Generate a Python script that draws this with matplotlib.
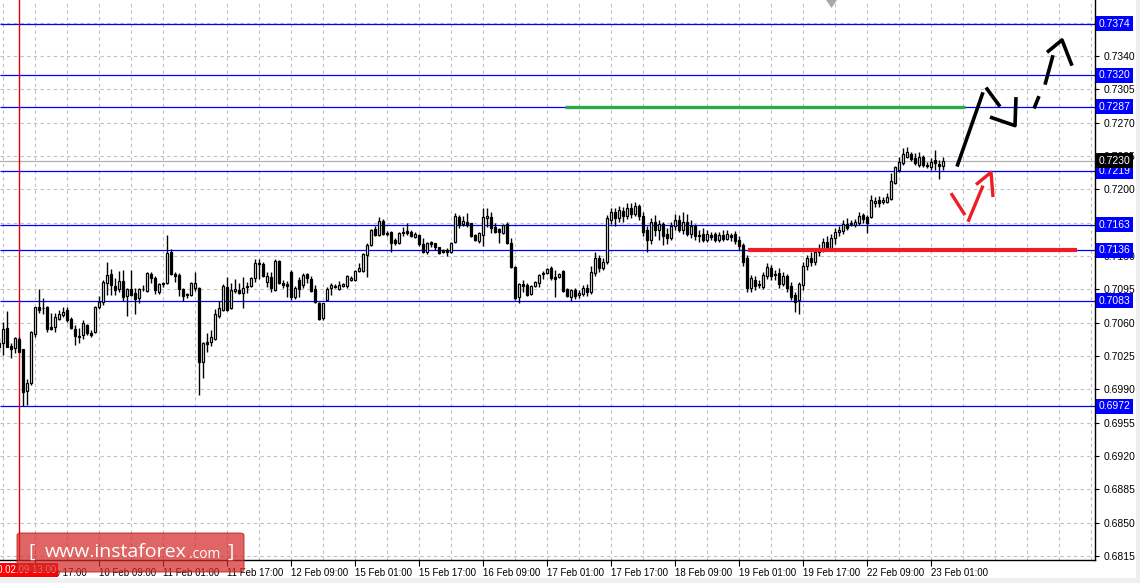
import numpy as np
import matplotlib
matplotlib.use("Agg")
import matplotlib.pyplot as plt
from matplotlib.patches import FancyBboxPatch, Polygon, Rectangle
from matplotlib.transforms import blended_transform_factory

plt.rcParams['font.family'] = ['Liberation Sans', 'DejaVu Sans']

# H1 candles, prices in pips (x 0.0001)
open_pips = [
    7034, 7039, 7054, 7035, 7033, 7043, 7032, 6988, 6997, 7048,
    7076, 7075, 7076, 7055, 7055, 7064, 7068, 7073, 7064, 7053,
    7046, 7047, 7057, 7049, 7050, 7076, 7082, 7102, 7111, 7098,
    7095, 7104, 7088, 7095, 7091, 7086, 7095, 7093, 7111, 7107,
    7092, 7101, 7102, 7134, 7111, 7110, 7095, 7090, 7089, 7096,
    7096, 7019, 7040, 7040, 7043, 7067, 7073, 7097, 7075, 7093,
    7094, 7091, 7097, 7098, 7107, 7123, 7122, 7103, 7108, 7094,
    7125, 7102, 7101, 7113, 7087, 7105, 7100, 7111, 7106, 7095,
    7081, 7065, 7084, 7096, 7097, 7095, 7098, 7098, 7105, 7105,
    7114, 7114, 7131, 7142, 7158, 7152, 7167, 7153, 7155, 7147,
    7144, 7154, 7156, 7155, 7150, 7152, 7143, 7134, 7145, 7144,
    7139, 7136, 7136, 7134, 7145, 7171, 7164, 7166, 7165, 7152,
    7146, 7152, 7170, 7171, 7160, 7158, 7154, 7164, 7144, 7118,
    7087, 7101, 7100, 7090, 7098, 7102, 7111, 7112, 7117, 7108,
    7108, 7114, 7095, 7087, 7094, 7089, 7090, 7096, 7092, 7112,
    7128, 7117, 7124, 7168, 7176, 7170, 7177, 7172, 7180, 7174,
    7183, 7172, 7157, 7147, 7166, 7157, 7164, 7153, 7149, 7162,
    7168, 7157, 7166, 7153, 7162, 7152, 7153, 7147, 7152, 7153,
    7147, 7152, 7148, 7152, 7153, 7147, 7142, 7128, 7096, 7105,
    7101, 7097, 7109, 7117, 7110, 7112, 7101, 7109, 7098, 7089,
    7084, 7100, 7119, 7128, 7124, 7134, 7136, 7145, 7138, 7149,
    7155, 7156, 7164, 7164, 7163, 7165, 7173, 7171, 7171, 7186,
    7189, 7187, 7187, 7190, 7207, 7220, 7228, 7234, 7237, 7233,
    7226, 7234, 7226, 7224, 7231, 7227, 7225,
]
high_pips = [
    7044, 7061, 7072, 7039, 7045, 7045, 7032, 7001, 7051, 7076,
    7095, 7086, 7077, 7070, 7070, 7073, 7076, 7076, 7066, 7057,
    7054, 7063, 7059, 7052, 7077, 7088, 7105, 7124, 7116, 7107,
    7114, 7115, 7096, 7115, 7096, 7096, 7100, 7113, 7113, 7109,
    7102, 7103, 7152, 7137, 7113, 7112, 7096, 7091, 7103, 7113,
    7097, 7040, 7049, 7052, 7074, 7083, 7101, 7108, 7102, 7106,
    7102, 7108, 7103, 7108, 7127, 7127, 7124, 7113, 7113, 7127,
    7126, 7105, 7104, 7115, 7098, 7108, 7112, 7112, 7109, 7100,
    7082, 7081, 7097, 7102, 7101, 7104, 7102, 7110, 7109, 7115,
    7123, 7133, 7144, 7158, 7162, 7171, 7169, 7156, 7156, 7149,
    7155, 7160, 7165, 7157, 7155, 7153, 7149, 7145, 7146, 7144,
    7139, 7137, 7138, 7145, 7175, 7173, 7172, 7175, 7165, 7153,
    7155, 7180, 7180, 7176, 7165, 7159, 7164, 7166, 7149, 7119,
    7102, 7105, 7102, 7100, 7104, 7111, 7114, 7117, 7119, 7115,
    7112, 7115, 7096, 7095, 7096, 7094, 7100, 7101, 7120, 7134,
    7131, 7128, 7173, 7180, 7180, 7183, 7181, 7186, 7186, 7187,
    7185, 7176, 7162, 7170, 7173, 7168, 7166, 7159, 7166, 7174,
    7173, 7176, 7174, 7168, 7164, 7157, 7159, 7157, 7155, 7155,
    7155, 7157, 7157, 7154, 7156, 7151, 7144, 7131, 7110, 7109,
    7105, 7113, 7123, 7121, 7115, 7117, 7113, 7111, 7103, 7092,
    7103, 7124, 7131, 7134, 7138, 7143, 7149, 7151, 7153, 7159,
    7162, 7168, 7170, 7168, 7169, 7176, 7175, 7173, 7194, 7192,
    7193, 7192, 7196, 7217, 7225, 7234, 7243, 7245, 7239, 7238,
    7239, 7236, 7229, 7233, 7241, 7231, 7234,
]
low_pips = [
    7029, 7026, 7034, 7023, 7028, 7029, 6972, 6973, 6995, 7045,
    7070, 7069, 7050, 7052, 7050, 7063, 7066, 7061, 7053, 7036,
    7039, 7043, 7047, 7045, 7049, 7074, 7079, 7089, 7089, 7089,
    7092, 7083, 7067, 7088, 7069, 7081, 7093, 7092, 7102, 7090,
    7090, 7097, 7101, 7110, 7103, 7088, 7083, 7086, 7088, 7093,
    6984, 7002, 7029, 7035, 7042, 7065, 7072, 7072, 7074, 7091,
    7090, 7075, 7091, 7097, 7103, 7106, 7108, 7097, 7092, 7093,
    7101, 7096, 7087, 7084, 7085, 7087, 7096, 7102, 7092, 7081,
    7063, 7063, 7084, 7089, 7096, 7094, 7097, 7096, 7104, 7104,
    7113, 7113, 7108, 7141, 7151, 7151, 7152, 7151, 7134, 7142,
    7143, 7151, 7152, 7150, 7149, 7140, 7133, 7132, 7139, 7136,
    7132, 7133, 7130, 7133, 7144, 7159, 7162, 7160, 7150, 7146,
    7144, 7140, 7160, 7154, 7154, 7144, 7153, 7143, 7117, 7084,
    7081, 7092, 7088, 7089, 7097, 7097, 7106, 7111, 7105, 7087,
    7107, 7092, 7087, 7083, 7085, 7086, 7088, 7088, 7090, 7109,
    7113, 7115, 7122, 7164, 7162, 7166, 7166, 7169, 7170, 7172,
    7168, 7151, 7134, 7143, 7151, 7147, 7142, 7143, 7147, 7157,
    7155, 7153, 7151, 7149, 7147, 7145, 7145, 7145, 7147, 7145,
    7145, 7146, 7147, 7146, 7143, 7136, 7119, 7092, 7092, 7094,
    7096, 7095, 7106, 7105, 7105, 7096, 7098, 7092, 7084, 7071,
    7069, 7094, 7115, 7119, 7121, 7130, 7134, 7136, 7136, 7143,
    7151, 7153, 7157, 7162, 7160, 7163, 7165, 7154, 7170, 7181,
    7181, 7185, 7186, 7189, 7206, 7218, 7226, 7233, 7230, 7226,
    7224, 7224, 7222, 7220, 7220, 7211, 7220,
]
close_pips = [
    7039, 7053, 7034, 7032, 7044, 7029, 6987, 6997, 7050, 7076,
    7073, 7075, 7053, 7053, 7066, 7069, 7071, 7063, 7054, 7046,
    7045, 7060, 7049, 7047, 7076, 7082, 7103, 7110, 7100, 7094,
    7104, 7087, 7095, 7089, 7085, 7095, 7095, 7112, 7107, 7094,
    7101, 7102, 7133, 7111, 7109, 7095, 7088, 7089, 7102, 7102,
    7019, 7039, 7038, 7045, 7069, 7075, 7098, 7073, 7094, 7095,
    7091, 7096, 7098, 7107, 7123, 7122, 7109, 7109, 7096, 7125,
    7102, 7100, 7098, 7087, 7096, 7095, 7110, 7107, 7093, 7082,
    7064, 7081, 7095, 7100, 7098, 7100, 7101, 7109, 7107, 7114,
    7117, 7132, 7142, 7157, 7152, 7167, 7153, 7154, 7144, 7144,
    7154, 7155, 7154, 7151, 7153, 7143, 7134, 7144, 7143, 7139,
    7133, 7134, 7134, 7144, 7172, 7163, 7167, 7163, 7151, 7147,
    7154, 7171, 7172, 7159, 7155, 7155, 7163, 7144, 7118, 7086,
    7101, 7098, 7089, 7098, 7103, 7110, 7112, 7116, 7107, 7106,
    7111, 7093, 7088, 7094, 7088, 7091, 7096, 7092, 7113, 7128,
    7117, 7124, 7170, 7176, 7170, 7178, 7172, 7180, 7174, 7183,
    7172, 7155, 7147, 7166, 7157, 7164, 7151, 7149, 7162, 7168,
    7157, 7166, 7153, 7162, 7151, 7151, 7147, 7153, 7150, 7147,
    7152, 7148, 7153, 7150, 7146, 7140, 7124, 7096, 7107, 7098,
    7100, 7110, 7118, 7109, 7111, 7101, 7109, 7096, 7087, 7082,
    7101, 7119, 7128, 7124, 7134, 7136, 7145, 7138, 7149, 7155,
    7157, 7164, 7159, 7165, 7166, 7172, 7169, 7165, 7189, 7188,
    7186, 7189, 7192, 7209, 7224, 7229, 7237, 7239, 7232, 7228,
    7234, 7226, 7225, 7229, 7228, 7225, 7230,
]

# time axis labels (every 16 bars) and their bar numbers
tick_bars = [9, 25, 41, 57, 73, 89, 105, 121, 137, 153, 169, 185, 201, 217, 233]
tick_labels = ['9 Feb 17:00', '10 Feb 09:00', '11 Feb 01:00', '11 Feb 17:00',
               '12 Feb 09:00', '15 Feb 01:00', '15 Feb 17:00', '16 Feb 09:00',
               '17 Feb 01:00', '17 Feb 17:00', '18 Feb 09:00', '19 Feb 01:00',
               '19 Feb 17:00', '22 Feb 09:00', '23 Feb 01:00']

# support / resistance levels
levels = [0.7374, 0.7320, 0.7287, 0.7219, 0.7163, 0.7136, 0.7083, 0.6972]
last_price = 0.7230
price_ticks = [0.6815, 0.6850, 0.6885, 0.6920, 0.6955, 0.6990, 0.7025, 0.7060,
               0.7095, 0.7130, 0.7165, 0.7200, 0.7235, 0.7270, 0.7305, 0.7340, 0.7375]
# scale labels that sit fully under a level box
hidden_ticks = [0.7165, 0.7375]

# hand drawn forecast strokes (bar number, price)
black_strokes = [
    [(239.5, 0.7224), (246.0, 0.7302)],
    [(246.75, 0.7307), (250.25, 0.7287)],
    [(247.75, 0.7276), (254.0, 0.7267), (254.25, 0.7297)],
]
black_dashed = [
    [(258.75, 0.7285), (260.0, 0.7298)],
    [(261.5, 0.7310), (263.5, 0.7341)],
    [(262.0, 0.7344), (265.75, 0.7357), (268.25, 0.7330)],
]
red_strokes = [
    [(238.0, 0.7196), (241.5, 0.7173)],
    [(242.25, 0.7166), (246.0, 0.7204)],
    [(244.25, 0.7205), (248.0, 0.7218), (248.5, 0.7192)],
]

o = np.array(open_pips) / 10000
h = np.array(high_pips) / 10000
l = np.array(low_pips) / 10000
c = np.array(close_pips) / 10000
idx = np.arange(len(c))

W, H = 1140, 583
fig = plt.figure(figsize=(W / 100, H / 100), dpi=100)
ax = fig.add_axes([0, 23 / H, 1095 / W, 560 / H])
ax.set_xlim(0.25, 274.0)
ax.set_ylim(0.68106, 0.7399)

# grid
grid_kw = dict(color='#c0c0c0', lw=0.8, linestyles=(0, (3, 3)), zorder=0)
ax.hlines(price_ticks, 0.25, 274, **grid_kw)
ax.vlines(np.arange(1, 274, 8), 0.68106, 0.7399, **grid_kw)

# level lines
ax.hlines(levels, 0.25, 274, color='#0000ff', lw=0.9, zorder=1)
ax.axhline(last_price, color='#b0b0b0', lw=0.9, zorder=1)
ax.axvline(5.1, color='#e00000', lw=1.0, zorder=1)

# candles
up = c > o
ax.vlines(idx, l, h, color='black', lw=1.0, zorder=3)
ax.bar(idx, np.abs(c - o), bottom=np.minimum(o, c), width=0.62,
       color=np.where(up, 'white', 'black'), edgecolor='black', lw=0.9, zorder=4)

# green / red zones
ax.hlines(0.7287, 141.5, 241.5, color='#2aa84a', lw=2.4, zorder=5)
ax.hlines(0.7136, 187.25, 269.5, color='#ee1c24', lw=3.0, zorder=5)

for s in black_strokes + black_dashed:
    xs, ys = zip(*s)
    ax.plot(xs, ys, color='black', lw=2.6, solid_capstyle='butt', zorder=6)
for s in red_strokes:
    xs, ys = zip(*s)
    ax.plot(xs, ys, color='#ee1c24', lw=2.4, solid_capstyle='butt', zorder=6)

# axes styling
for sp in ['top', 'left']:
    ax.spines[sp].set_visible(False)
for sp in ['right', 'bottom']:
    ax.spines[sp].set_color('black')
    ax.spines[sp].set_linewidth(1.0)
ax.yaxis.tick_right()
ax.set_yticks(price_ticks)
ax.set_yticklabels(['' if v in hidden_ticks else '%.4f' % v for v in price_ticks])
ax.set_xticks(tick_bars)
ax.set_xticklabels(tick_labels, ha='left')
ax.tick_params(axis='y', length=3, width=0.8, pad=3, labelsize=7.5, colors='black')
ax.tick_params(axis='x', length=4, width=0.8, pad=2, labelsize=7, colors='black')

# price labels on the right scale
trans = blended_transform_factory(ax.transAxes, ax.transData)
for lv in levels:
    ax.annotate('%.4f' % lv, xy=(1, lv), xycoords=trans, xytext=(2.4, 0),
                textcoords='offset points', ha='left', va='center', fontsize=7.5,
                color='white', annotation_clip=False, zorder=10,
                bbox=dict(boxstyle='square,pad=0.25', fc='#0000ff', ec='none'))
ax.annotate('%.4f' % last_price, xy=(1, last_price), xycoords=trans, xytext=(2.4, 0),
            textcoords='offset points', ha='left', va='center', fontsize=7.5,
            color='white', annotation_clip=False, zorder=11,
            bbox=dict(boxstyle='square,pad=0.25', fc='black', ec='none'))

# crosshair date label
fig.text(56 / W, (H - 570) / H, '2010.02.09 13:00', ha='right', va='center',
         fontsize=7, color='white',
         bbox=dict(boxstyle='square,pad=0.25', fc='#ff0000', ec='none'))

# chart shift marker
fig.add_artist(Polygon([[826 / W, 1.0], [837 / W, 1.0], [831.5 / W, (H - 8) / H]],
                       closed=True, fc='#a8a8a8', ec='none', transform=fig.transFigure))

# neighbouring window edge
fig.add_artist(Rectangle((1136 / W, 0), 4 / W, 1, fc='#eeeeee', ec='none',
                         transform=fig.transFigure))
fig.add_artist(Rectangle((0, 0), 1136 / W, 5 / H, fc='#f0f0f0', ec='none',
                         transform=fig.transFigure))

# watermark
fig.add_artist(FancyBboxPatch((17 / W, 11 / H), 227 / W, 39 / H,
                              boxstyle='round,pad=0,rounding_size=0.004',
                              fc='#d42a2a', ec='#c01818', lw=0.8, alpha=0.72,
                              transform=fig.transFigure, zorder=20))
wy = (H - 552) / H
fig.text(32 / W, wy, '[', fontsize=14, color='white', ha='center', va='center',
         family='Open Sans', zorder=21)
fig.text(45 / W, wy, 'www.instaforex', fontsize=14, color='white', ha='left',
         va='center', family='Open Sans', zorder=21)
fig.text(189 / W, (H - 555) / H, '.com', fontsize=10, color='white', ha='left',
         va='center', family='Open Sans', zorder=21)
fig.text(231 / W, wy, ']', fontsize=14, color='white', ha='center', va='center',
         family='Open Sans', zorder=21)

fig.savefig('out.png', dpi=100)
